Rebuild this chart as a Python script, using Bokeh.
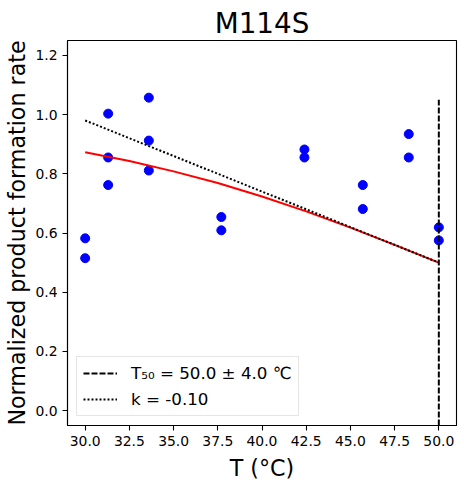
from bokeh.plotting import figure
from bokeh.models import Range1d, FixedTicker, PrintfTickFormatter, Legend, LegendItem
from bokeh.embed import file_html
from bokeh.resources import INLINE

# measured data
temps = [30.0, 30.0, 31.3, 31.3, 31.3, 33.6, 33.6, 33.6, 37.7, 37.7,
         42.4, 42.4, 45.7, 45.7, 48.3, 48.3, 50.0, 50.0]
rates = [0.582, 0.515, 1.003, 0.855, 0.762, 1.057, 0.912, 0.811, 0.654, 0.609,
         0.882, 0.855, 0.762, 0.681, 0.934, 0.855, 0.619, 0.575]

# fitted curve
fit_t = [30.0, 32.5, 35.0, 37.5, 40.0, 42.5, 45.0, 47.5, 50.0]
fit_y = [0.873, 0.843, 0.808, 0.769, 0.723, 0.673, 0.618, 0.560, 0.500]

# tangent line at T50
slope_t = [30.0, 50.0]
slope_y = [0.980, 0.500]

# T50 marker
t50_x = [50.0, 50.0]
t50_y = [-0.05, 1.05]

x_ticks = [30.0, 32.5, 35.0, 37.5, 40.0, 42.5, 45.0, 47.5, 50.0]
y_ticks = [0.0, 0.2, 0.4, 0.6, 0.8, 1.0, 1.2]

title_text = "M114S"
x_label = "T (°C)"
y_label = "Normalized product formation rate"
label_t50 = "T₅₀ = 50.0 ± 4.0 ℃"
label_k = "k = -0.10"

FONT = "DejaVu Sans"

p = figure(width=464, height=487, output_backend="svg", toolbar_location=None,
           x_range=Range1d(29, 51), y_range=Range1d(-0.05, 1.25),
           min_border_left=67, min_border_right=8, min_border_top=40,
           min_border_bottom=62, title=title_text)

p.title.text_font = FONT
p.title.text_font_size = "27.8px"
p.title.text_font_style = "normal"
p.title.align = "center"
p.title.text_color = "black"
p.title.standoff = 2

p.grid.visible = False
p.outline_line_color = "black"
p.outline_line_width = 1.1
p.background_fill_color = "white"
p.border_fill_color = "white"

for ax in (p.xaxis[0], p.yaxis[0]):
    ax.major_label_text_font = FONT
    ax.major_label_text_font_size = "13.9px"
    ax.major_label_text_color = "black"
    ax.axis_label_text_font = FONT
    ax.axis_label_text_font_size = "22.2px"
    ax.axis_label_text_font_style = "normal"
    ax.axis_label_text_color = "black"
    ax.major_tick_in = 0
    ax.major_tick_out = 5
    ax.minor_tick_in = 0
    ax.minor_tick_out = 0
    ax.major_tick_line_color = "black"
    ax.major_tick_line_width = 1.1
    ax.axis_line_color = "black"
    ax.axis_line_width = 1.1
    ax.major_label_standoff = 5

p.xaxis[0].ticker = FixedTicker(ticks=x_ticks)
p.yaxis[0].ticker = FixedTicker(ticks=y_ticks)
p.xaxis[0].formatter = PrintfTickFormatter(format="%.1f")
p.yaxis[0].formatter = PrintfTickFormatter(format="%.1f")
p.xaxis[0].axis_label = x_label
p.yaxis[0].axis_label = y_label
p.xaxis[0].axis_label_standoff = 6
p.yaxis[0].axis_label_standoff = 2

p.scatter(temps, rates, size=9, color="#0000ff", line_color="#0000ff")
p.line(fit_t, fit_y, line_color="#ff0000", line_width=2)
r_k = p.line(slope_t, slope_y, line_color="black", line_width=2, line_dash="2 2")
r_t50 = p.line(t50_x, t50_y, line_color="black", line_width=2, line_dash="6 2")

legend = Legend(items=[LegendItem(label=label_t50, renderers=[r_t50]),
                       LegendItem(label=label_k, renderers=[r_k])],
                location="bottom_left", margin=9, padding=6, spacing=6,
                glyph_width=34, glyph_height=20, label_standoff=14,
                label_text_font=FONT, label_text_font_size="16.7px",
                label_text_color="black", label_height=20,
                border_line_color="#cccccc", border_line_width=1,
                background_fill_color="white", background_fill_alpha=0.8)
p.add_layout(legend, "center")

open("out.html", "w").write(file_html(p, INLINE))
